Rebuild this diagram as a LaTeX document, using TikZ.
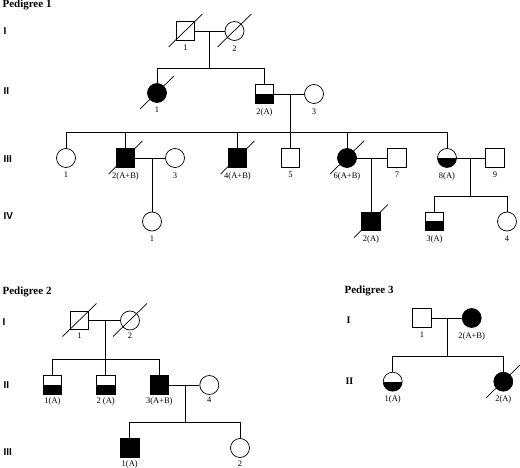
\documentclass[tikz,border=0pt]{standalone}
\usepackage{fontspec}
\setmainfont{Liberation Serif}
\newfontfamily\genfont{Liberation Sans}
\usepackage{tkz-euclide}

\tikzset{
  ind/.style={draw, line width=0.7pt, inner sep=0pt, fill=white},
  varon/.style={ind, rectangle, minimum size=18.5pt},
  mujer/.style={ind, circle, minimum size=19pt},
  afectado/.style={fill=black},
  portador/.style={path picture={\fill[black] (path picture bounding box.west) rectangle (path picture bounding box.south east);}},
  etiq/.style={label distance=1pt, font=\fontsize{8.5}{10}\selectfont},
  etiqb/.style={label distance=-1pt, font=\fontsize{8.5}{10}\selectfont},
  linea/.style={line width=0.7pt},
  generacion/.style={anchor=west, font=\genfont\bfseries\fontsize{10}{12}\selectfont},
  generacionserif/.style={anchor=west, font=\bfseries\fontsize{10}{12}\selectfont},
  titulo/.style={anchor=west, font=\bfseries\fontsize{11}{13}\selectfont}
}
\newcommand{\fallecido}[1]{\draw[linea] (#1.center) ++(-17,16) -- ++(34,-33);}

\begin{document}
\begin{tikzpicture}[x=1pt,y=-1pt]
    \useasboundingbox (0,0) rectangle (520,468);

    % Títulos y generaciones.
    \node[titulo] (tit1) at (-1,5) {Pedigree 1};
    \node[titulo] (tit2) at (-1,292) {Pedigree 2};
    \node[titulo] (tit3) at (341,291) {Pedigree 3};
    \node[generacion] (ga1) at (0,31) {I};
    \node[generacion] (ga2) at (0,91) {II};
    \node[generacion] (ga3) at (0,159) {III};
    \node[generacion] (ga4) at (0,216) {IV};
    \node[generacion] (gb1) at (-1,322) {I};
    \node[generacion] (gb2) at (0,385) {II};
    \node[generacion] (gb3) at (0,452) {III};
    \node[generacionserif] (gc1) at (343,320) {I};
    \node[generacionserif] (gc2) at (342,381.5) {II};

    % Pedigree 1: individuos.
    \node[varon, label={[etiq]below:1}] (p1a) at (185.5,31) {};
    \node[mujer, label={[etiq]below:2}] (p1b) at (234.5,31) {};
    \node[mujer, afectado, label={[etiq]below:1}] (p2a) at (157,93) {};
    \node[varon, portador, label={[etiq]below:2(A)}] (p2b) at (264.5,94) {};
    \node[mujer, label={[etiq]below:3}] (p2c) at (314,94) {};
    \node[mujer, label={[etiq]below:1}] (q1) at (66,158) {};
    \node[varon, afectado, label={[etiq]below:2(A+B)}] (q2) at (125.5,158) {};
    \node[mujer, label={[etiq]below:3}] (q3) at (175,158) {};
    \node[varon, afectado, label={[etiq]below:4(A+B)}] (q4) at (237.5,158) {};
    \node[varon, label={[etiq]below:5}] (q5) at (290.5,158) {};
    \node[mujer, afectado, label={[etiq]below:6(A+B)}] (q6) at (347,158) {};
    \node[varon, label={[etiq]below:7}] (q7) at (397,158) {};
    \node[mujer, portador, label={[etiq]below:8(A)}] (q8) at (447,158) {};
    \node[varon, label={[etiq]below:9}] (q9) at (495,158) {};
    \node[mujer, label={[etiq]below:1}] (r1) at (152,221.5) {};
    \node[varon, afectado, label={[etiq]below:2(A)}] (r2) at (371,221.5) {};
    \node[varon, portador, label={[etiq]below:3(A)}] (r3) at (434.5,221.5) {};
    \node[mujer, label={[etiq]below:4}] (r4) at (507,221.5) {};

    % Pedigree 2: individuos.
    \node[varon, label={[etiqb]below:1}] (a1) at (79.5,320.5) {};
    \node[mujer, label={[etiqb]below:2}] (a2) at (130,320.5) {};
    \node[varon, portador, label={[etiqb]below:1(A)}] (b1) at (52.5,385) {};
    \node[varon, portador, label={[etiqb]below:2 (A)}] (b2) at (105.7,385) {};
    \node[varon, afectado, label={[etiqb]below:3(A+B)}] (b3) at (159.3,385) {};
    \node[mujer, label={[etiqb]below:4}] (b4) at (209.3,385) {};
    \node[varon, afectado, label={[etiqb]below:1(A)}] (c1) at (129.7,448) {};
    \node[mujer, label={[etiqb]below:2}] (c2) at (240,448) {};

    % Pedigree 3: individuos.
    \node[varon, label={[etiq]below:1}] (d1) at (422,318) {};
    \node[mujer, afectado, label={[etiq]below:2(A+B)}] (d2) at (471.7,318) {};
    \node[mujer, portador, label={[etiq]below:1(A)}] (e1) at (392.7,381.7) {};
    \node[mujer, afectado, label={[etiq]below:2(A)}] (e2) at (503.3,381.7) {};

    % Fallecidos.
    \foreach \n in {p1a,p1b,p2a,q2,q4,q6,r2,a1,a2,e2}{\fallecido{\n}}

    % Puntos de unión y de hermandad.
    \tkzDefPoints{
        209/31/m1, 209/68/s1,
        290.5/94/m2, 290.5/132/s2,
        152/158/m3, 371/158/m4,
        470/158/m5, 470/196/s5,
        105.7/320.5/n1, 105.7/359/t1,
        185/385/n2, 185/422.3/t2,
        447.3/318/k1, 447.3/356/u1%
    }

    % Parejas.
    \draw[linea] (p1a) -- (p1b);
    \draw[linea] (p2b) -- (p2c);
    \draw[linea] (q2) -- (q3);
    \draw[linea] (q6) -- (q7);
    \draw[linea] (q8) -- (q9);
    \draw[linea] (a1) -- (a2);
    \draw[linea] (b3) -- (b4);
    \draw[linea] (d1) -- (d2);

    % Descendencia.
    \draw[linea] (m1) -- (s1);
    \draw[linea] (m2) -- (s2);
    \draw[linea] (m3) -- (r1);
    \draw[linea] (m4) -- (r2);
    \draw[linea] (m5) -- (s5);
    \draw[linea] (n1) -- (t1);
    \draw[linea] (n2) -- (t2);
    \draw[linea] (k1) -- (u1);

    % Líneas de hermanos.
    \draw[linea] (p2a.north) -- (p2a.north |- s1) -- (p2b.north |- s1) -- (p2b.north);
    \draw[linea] (q1.north) -- (q1.north |- s2) -- (q8.north |- s2) -- (q8.north);
    \foreach \n in {q2,q4,q5,q6}{\draw[linea] (\n.north) -- (\n.north |- s2);}
    \draw[linea] (r3.north) -- (r3.north |- s5) -- (r4.north |- s5) -- (r4.north);
    \draw[linea] (b1.north) -- (b1.north |- t1) -- (b3.north |- t1) -- (b3.north);
    \draw[linea] (b2.north) -- (b2.north |- t1);
    \draw[linea] (c1.north) -- (c1.north |- t2) -- (c2.north |- t2) -- (c2.north);
    \draw[linea] (e1.north) -- (e1.north |- u1) -- (e2.north |- u1) -- (e2.north);
\end{tikzpicture}
\end{document}
